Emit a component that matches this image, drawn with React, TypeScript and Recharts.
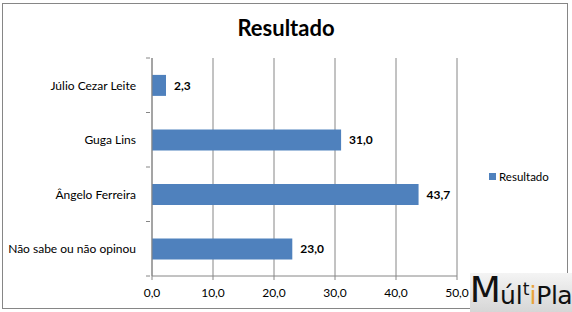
import React from "react";
import {
  BarChart,
  Bar,
  XAxis,
  YAxis,
  CartesianGrid,
  LabelList,
} from "recharts";

const categories = [
  "Júlio Cezar Leite",
  "Guga Lins",
  "Ângelo Ferreira",
  "Não sabe ou não opinou",
];
const resultado = [2.3, 31.0, 43.7, 23.0];
const xTicks = [0, 10, 20, 30, 40, 50];
const seriesName = "Resultado";

const data = categories.map((name, i) => ({ name, Resultado: resultado[i] }));

const FONT = "Lato, 'Open Sans', sans-serif";
const AXIS = "#868686";
const BAR = "#4F81BD";

const PLOT_TOP = 58;
const PLOT_BOTTOM = 276;
const BAND = (PLOT_BOTTOM - PLOT_TOP) / categories.length;

function fmt(v: number) {
  return v.toFixed(1).replace(".", ",");
}

function CategoryTick(props: any) {
  const { x, y, payload, index } = props;
  const top = y - BAND / 2;
  return (
    <g>
      <line x1={x - 4} x2={x} y1={top} y2={top} stroke={AXIS} />
      {index === categories.length - 1 && (
        <line x1={x - 4} x2={x} y1={y + BAND / 2} y2={y + BAND / 2} stroke={AXIS} />
      )}
      <text
        x={x - 14}
        y={y}
        textAnchor="end"
        dominantBaseline="central"
        fontSize={12}
        fontFamily={FONT}
        fill="#000"
      >
        {payload.value}
      </text>
    </g>
  );
}

export default function App() {
  return (
    <div
      style={{
        position: "absolute",
        left: 0,
        top: 0,
        width: 572,
        height: 312,
        background: "#fff",
        fontFamily: FONT,
      }}
    >
      <div
        style={{
          position: "absolute",
          left: 2,
          top: 3,
          width: 566,
          height: 306,
          border: `1px solid ${AXIS}`,
          boxSizing: "border-box",
        }}
      />
      <div
        style={{
          position: "absolute",
          left: 0,
          top: 14,
          width: 572,
          textAlign: "center",
          fontSize: 22,
          fontWeight: 700,
          color: "#000",
        }}
      >
        Resultado
      </div>
      <BarChart
        width={572}
        height={312}
        data={data}
        layout="vertical"
        margin={{ top: PLOT_TOP, right: 115, left: 0, bottom: 0 }}
        barCategoryGap="31%"
        style={{ position: "absolute", left: 0, top: 0 }}
      >
        <CartesianGrid horizontal={false} stroke={AXIS} strokeDasharray="" />
        <XAxis
          type="number"
          domain={[0, 50]}
          ticks={xTicks}
          tickFormatter={fmt}
          height={36}
          axisLine={{ stroke: AXIS }}
          tickLine={{ stroke: AXIS }}
          tickSize={4}
          tickMargin={8}
          tick={{ fontSize: 12, fill: "#000", fontFamily: FONT }}
          interval={0}
        />
        <YAxis
          type="category"
          dataKey="name"
          width={152}
          axisLine={{ stroke: AXIS }}
          tickLine={false}
          tickSize={0}
          tick={<CategoryTick />}
          interval={0}
        />
        <Bar dataKey="Resultado" fill={BAR} isAnimationActive={false}>
          <LabelList
            dataKey="Resultado"
            position="right"
            offset={8}
            formatter={(v: any) => fmt(Number(v))}
            style={{ fontSize: 12, fontWeight: 700, fill: "#000", fontFamily: FONT }}
          />
        </Bar>
      </BarChart>
      <div
        style={{
          position: "absolute",
          left: 489,
          top: 170,
          display: "flex",
          alignItems: "center",
          fontSize: 11.5,
          color: "#000",
        }}
      >
        <span
          style={{
            display: "inline-block",
            width: 7,
            height: 7,
            background: BAR,
            marginRight: 3,
          }}
        />
        {seriesName}
      </div>
      <div
        style={{
          position: "absolute",
          left: 470,
          top: 273,
          width: 102,
          height: 39,
          background: "linear-gradient(#f4f4f4, #d6d6d6)",
          display: "flex",
          alignItems: "flex-end",
          justifyContent: "center",
          fontFamily: "'DejaVu Sans', sans-serif",
          color: "#111",
          lineHeight: 1,
          paddingBottom: 4,
          boxSizing: "border-box",
        }}
      >
        <span style={{ fontSize: 36, letterSpacing: -1 }}>M</span>
        <span style={{ fontSize: 25 }}>úl</span>
        <span style={{ fontSize: 17, position: "relative", top: -10 }}>t</span>
        <span style={{ fontSize: 25, color: "#E8A33C" }}>i</span>
        <span style={{ fontSize: 25, letterSpacing: -0.5 }}>Pla</span>
      </div>
    </div>
  );
}
